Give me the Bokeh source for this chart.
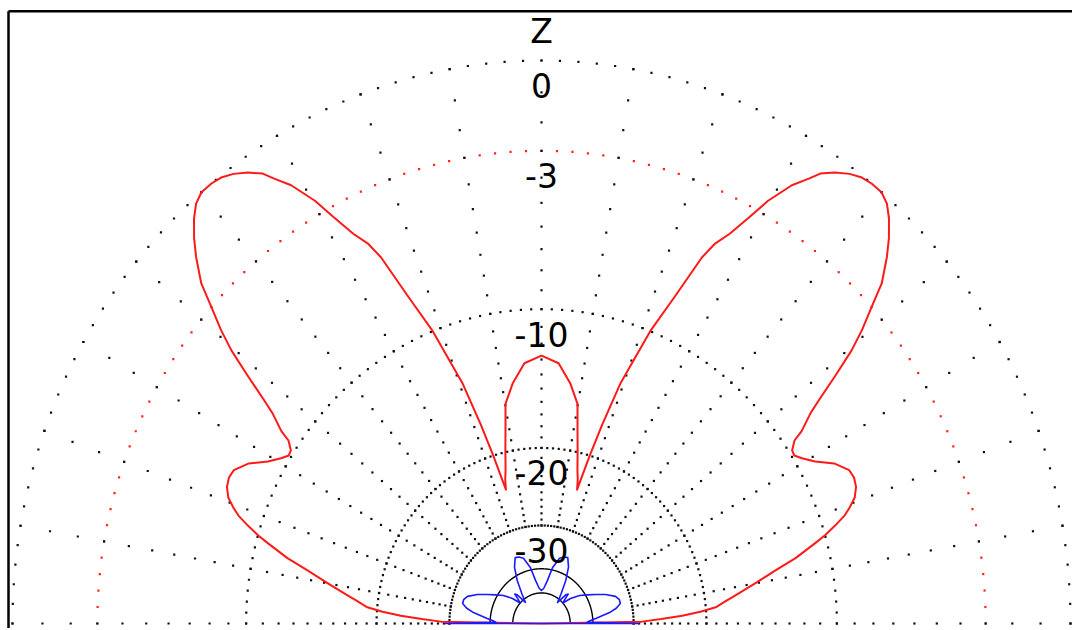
import numpy as np
from bokeh.plotting import figure
from bokeh.models import ColumnDataSource
from bokeh.core.properties import value
from bokeh.embed import file_html
from bokeh.resources import INLINE

# ---------------- data (elevation pattern, ARRL log scale) ----------------
# elevation angle measured from the right-hand horizon (deg), gain in dB
red_elev = [0, 1, 2, 3, 4, 5, 6.5, 7.7, 10, 12, 13.6, 15.4, 16.3, 17.4, 18.5, 19.5,
            20.7, 22.2, 23.7, 25.1, 27.2, 29.1, 30.8, 32.0, 33.0, 34.2, 34.8, 36.3,
            37.1, 38.4, 39.6, 40.7, 42.0, 43.2, 44.9, 46.2, 47.6, 48.8, 50.0, 51.4,
            52.6, 53.9, 55.3, 56.6, 57.4, 58.7, 60.3, 61.4, 62.8, 64.1, 65.0, 66.5,
            68.4, 70.7, 72.0, 73.0, 74.2, 75.0, 76.0, 77.5, 78.8, 80.1, 82.7, 86.0,
            90.0,
            94.0, 97.3, 99.9, 101.2, 102.5, 104.0, 105.0, 105.8, 107.0, 108.0, 109.3,
            111.6, 113.5, 115.0, 115.9, 117.2, 118.6, 119.7, 121.3, 122.6, 123.4,
            124.7, 126.1, 127.4, 128.6, 130.0, 131.2, 132.4, 133.8, 135.1, 136.8,
            138.0, 139.3, 140.4, 141.6, 142.9, 143.7, 145.2, 145.8, 147.0, 148.0,
            149.2, 150.9, 152.8, 154.9, 156.3, 157.8, 159.3, 160.5, 161.5, 162.6,
            163.7, 164.6, 166.4, 168.0, 170.0, 172.3, 173.5, 175.0, 176.0, 177.0,
            178.0, 179.0, 180.0]
red_gain = [-100, -28.5, -25.5, -22.7, -20.6, -19.0, -18.0, -17.1, -15.3, -13.65, -12.1,
            -10.7, -10.0, -9.3, -8.65, -8.25, -7.85, -7.6, -7.52, -7.6, -8.15, -9.0,
            -9.55, -9.85, -9.8, -9.4, -8.8, -7.9, -7.2, -5.9, -4.7, -3.85, -3.0, -2.15,
            -1.4, -0.9, -0.45, -0.15, 0.0, 0.0, -0.05, -0.2, -0.45, -0.75, -1.1, -1.6,
            -2.5, -3.35, -4.3, -4.95, -5.7, -7.8, -10.0, -13.6, -17.0, -20.0, -24.0,
            -22.8, -21.8, -19.8, -18.0, -15.9, -14.5, -13.2,
            -12.75,
            -13.2, -14.5, -15.9, -18.0, -19.8, -21.8, -22.8, -24.0, -20.0, -17.0,
            -13.6, -10.0, -7.8, -5.7, -4.95, -4.3, -3.35, -2.5, -1.6, -1.1, -0.75,
            -0.45, -0.2, -0.05, 0.0, 0.0, -0.15, -0.45, -0.9, -1.4, -2.15, -3.0, -3.85,
            -4.7, -5.9, -7.2, -7.9, -8.8, -9.4, -9.8, -9.85, -9.55, -9.0, -8.15, -7.6,
            -7.52, -7.6, -7.85, -8.25, -8.65, -9.3, -10.0, -10.7, -12.1, -13.65, -15.3,
            -17.1, -18.0, -19.0, -20.6, -22.7, -25.5, -28.5, -100]

blue_elev = [0, 1.5, 3, 5, 8.6, 11, 13.4, 16, 19, 23, 26.8, 30.5, 34.7, 39, 42, 44, 46,
             48, 51, 55, 59, 63, 67, 70, 73.6, 78.2, 81.6, 86, 90,
             94, 98.4, 101.8, 106.4, 110, 113, 117, 121, 125, 129, 132, 134, 136, 138,
             141, 145.3, 149.5, 153.2, 157, 161, 164, 166.6, 169, 171.4, 175, 177, 178.5,
             180]
blue_gain = [-29.2, -42, -41, -39, -35, -33.2, -32.2, -32.2, -32.8, -34.8, -37.2, -39.5,
             -41.8, -45.5, -50, -48, -45, -46, -52, -47, -41.5, -37.5, -35.4, -35.6,
             -36.3, -39.3, -43.9, -47.5, -48.7,
             -47.5, -43.9, -39.3, -36.3, -35.6, -35.4, -37.5, -41.5, -47, -52, -46,
             -45, -48, -50, -45.5, -41.8, -39.5, -37.2, -34.8, -32.8, -32.2, -32.2,
             -33.2, -35, -39, -41, -42, -29.2]

ring_db = [0, -3, -10, -20, -30]
ring_labels = ["0", "-3", "-10", "-20", "-30"]
ring_colors = ["#111111", "#ff2020", "#111111", "#111111", "#111111"]
solid_ring_db = [-40, -50]
spoke_deg = list(range(0, 181, 10))
axis_name = "Z"

# ---------------- layout constants ----------------
W, H = 1072, 628
PAGE = 0
CXP, CYP = 541.0, 623.0      # page px of the pattern centre
SX, SY = 529.0, 563.0        # px per unit radius (horizontal / vertical)

x0 = (PAGE - CXP) / SX
x1 = (PAGE + W - CXP) / SX
y0 = (CYP - (PAGE + H)) / SY
y1 = (CYP - PAGE) / SY


def arrl(db):
    return 0.89 ** (-np.asarray(db, dtype=float) / 2.0)


def polar(deg, r):
    a = np.radians(np.asarray(deg, dtype=float))
    return r * np.cos(a), r * np.sin(a)


p = figure(width=W, height=H, x_range=(x0, x1), y_range=(y0, y1),
           output_backend="svg", toolbar_location=None, min_border=0,
           match_aspect=False)
p.axis.visible = False
p.grid.visible = False
p.outline_line_color = None
p.background_fill_color = "white"
p.border_fill_color = "white"

# frame (left and top edges)
xl = (8.0 - CXP) / SX
yt = (CYP - 10.7) / SY
p.line([xl, xl], [y0 - 0.1, yt], line_color="black", line_width=2.5)
p.line([xl, x1 + 0.1], [yt, yt], line_color="black", line_width=2.5)

# dotted rings (one dot every 2 degrees)
ang2 = np.arange(0, 181, 2)
for db, col in zip(ring_db, ring_colors):
    rx, ry = polar(ang2, arrl(db))
    p.scatter(rx, ry, marker="square", size=2.2, fill_color=col, line_color=None)

# dotted spokes (one dot per dB from -30 to 0)
sp_db = np.arange(0, -31, -1)
for d in spoke_deg:
    sx, sy = polar(np.full(sp_db.shape, d), arrl(sp_db))
    p.scatter(sx, sy, marker="square", size=2.2, fill_color="#111111", line_color=None)

# solid inner rings
ang_f = np.linspace(0, 180, 181)
for db in solid_ring_db:
    rx, ry = polar(ang_f, arrl(db))
    p.line(rx, ry, line_color="black", line_width=1.4)

# patterns
rx, ry = polar(red_elev, arrl(red_gain))
p.line(np.r_[0, rx, 0], np.r_[0, ry, 0], line_color="#ff1a1a", line_width=2,
       line_join="round")
bx, by = polar(blue_elev, arrl(blue_gain))
p.line(np.r_[0, bx, 0], np.r_[0, by, 0], line_color="#1a1aff", line_width=1.6,
       line_join="round")

# labels
lab = ColumnDataSource(dict(x=[0.0] * len(ring_db), y=list(arrl(ring_db)),
                            t=ring_labels))
p.text(x="x", y="y", text="t", source=lab, y_offset=25,
       text_font=value("DejaVu Sans"), text_font_size="33px",
       text_align="center", text_baseline="middle", text_color="black")
p.text(x=[0.0], y=[float(arrl(0))], text=[axis_name], y_offset=-29,
       text_font=value("DejaVu Sans"), text_font_size="33px",
       text_align="center", text_baseline="middle", text_color="black")

open("out.html", "w").write(file_html(p, INLINE))
